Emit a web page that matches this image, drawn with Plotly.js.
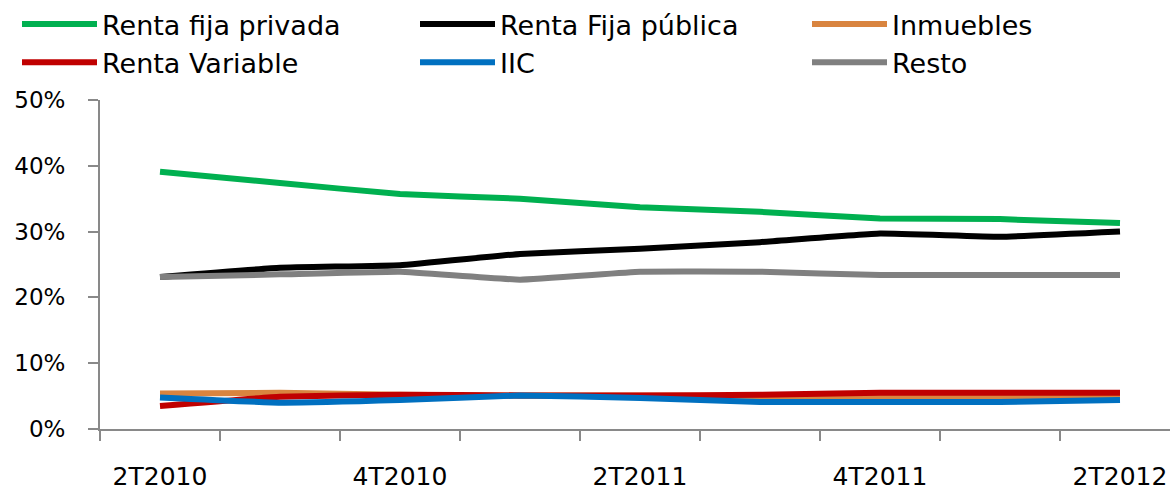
<!DOCTYPE html>
<html>
<head>
<meta charset="utf-8">
<script src="https://cdn.plot.ly/plotly-3.0.1.min.js"></script>
<style>html,body{margin:0;padding:0;background:#fff;}#chart{width:1170px;height:490px;}</style>
</head>
<body>
<div id="chart"></div>
<script>
const quarters = ["2T2010","3T2010","4T2010","1T2011","2T2011","3T2011","4T2011","1T2012","2T2012"];
const seriesNames = ["Renta fija privada","Renta Fija pública","Inmuebles","Renta Variable","IIC","Resto"];
const rentaFijaPrivada = [39.1, 37.4, 35.7, 35.0, 33.7, 33.0, 32.0, 31.9, 31.3];
const rentaFijaPublica = [23.1, 24.5, 24.9, 26.6, 27.4, 28.4, 29.7, 29.2, 30.0];
const inmuebles        = [5.4, 5.5, 5.2, 5.1, 5.1, 5.0, 4.9, 4.9, 4.9];
const rentaVariable    = [3.5, 4.9, 5.2, 5.1, 5.1, 5.2, 5.5, 5.5, 5.5];
const iic              = [4.8, 4.0, 4.4, 5.1, 4.7, 4.1, 4.1, 4.1, 4.4];
const resto            = [23.1, 23.5, 23.9, 22.7, 23.9, 23.9, 23.4, 23.4, 23.4];
const yTicks = [0, 10, 20, 30, 40, 50];
const colors = ["#00B050","#000000","#D9843F","#C00000","#0070C0","#808080"];

const values = [rentaFijaPrivada, rentaFijaPublica, inmuebles, rentaVariable, iic, resto];
const xIdx = quarters.map((q, i) => i);
const labelIdx = xIdx.filter(i => i % 2 === 0);
const legendIds = ['legend', 'legend2', 'legend3'];

const traces = values.map((v, k) => ({
  type: 'scatter', mode: 'lines',
  name: seriesNames[k],
  x: xIdx, y: v,
  line: {color: colors[k], width: 6, shape: 'spline', smoothing: 0.3},
  legend: legendIds[k % 3],
  legendgroup: 'g' + k,
  hoverinfo: 'skip'
}));

const font = 'DejaVu Sans, Verdana, sans-serif';
const legendCommon = {
  orientation: 'v', xref: 'container', yref: 'container',
  xanchor: 'left', yanchor: 'top', y: 1,
  itemwidth: 75,
  tracegroupgap: 5,
  font: {family: font, size: 27, color: '#000'},
  bgcolor: 'rgba(0,0,0,0)', borderwidth: 0,
  traceorder: 'normal'
};

const layout = {
  width: 1170, height: 490,
  margin: {l: 100, r: 0, t: 100, b: 61, pad: 0, autoexpand: false},
  paper_bgcolor: '#fff', plot_bgcolor: '#fff',
  showlegend: true,
  legend: Object.assign({}, legendCommon, {x: 17/1170}),
  legend2: Object.assign({}, legendCommon, {x: 415/1170}),
  legend3: Object.assign({}, legendCommon, {x: 807/1170}),
  xaxis: {
    range: [-0.5, -0.5 + 1070/120],
    showgrid: false, zeroline: false,
    showline: true, linecolor: '#898989', linewidth: 2,
    tickmode: 'array', tickvals: labelIdx, ticktext: labelIdx.map(i => quarters[i]),
    ticks: '', ticklabelstandoff: 24,
    tickfont: {family: font, size: 25, color: '#000'},
    minor: {tick0: -0.5, dtick: 1, ticks: 'outside', ticklen: 10, tickwidth: 2, tickcolor: '#898989', showgrid: false},
    fixedrange: true
  },
  yaxis: {
    range: [0, 50],
    showgrid: false, zeroline: false,
    showline: true, linecolor: '#898989', linewidth: 2,
    tickmode: 'array', tickvals: yTicks, ticktext: yTicks.map(t => t + '%'),
    ticks: 'outside', ticklen: 10, tickwidth: 2, tickcolor: '#898989',
    ticklabelstandoff: 18,
    tickfont: {family: font, size: 23, color: '#000'},
    fixedrange: true
  }
};

Plotly.newPlot('chart', traces, layout, {displayModeBar: false, staticPlot: true});
</script>
</body>
</html>
